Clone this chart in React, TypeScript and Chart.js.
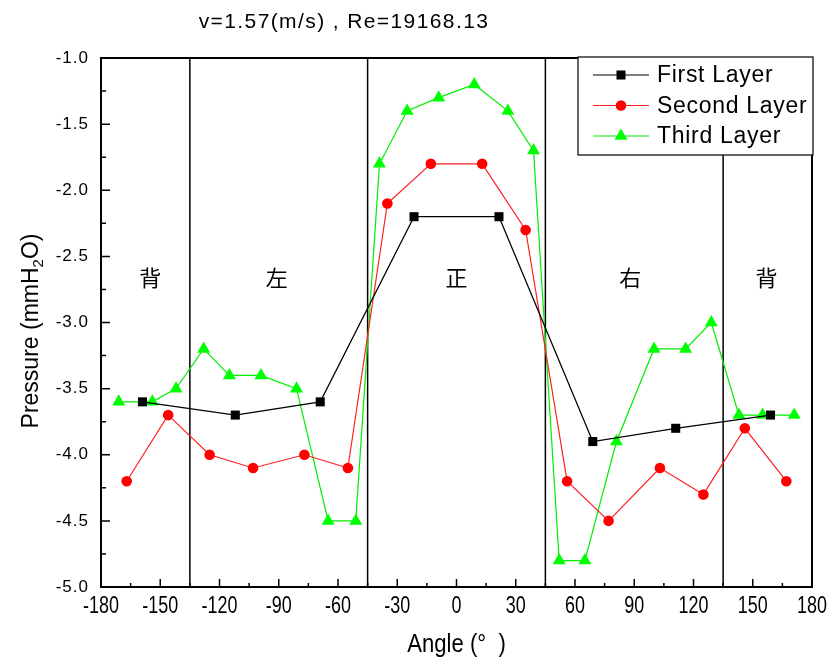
import React, { useEffect, useRef } from 'react';
import { Chart, registerables } from 'chart.js';

Chart.register(...registerables);

// ---- data ----
const titleText = 'v=1.57(m/s) , Re=19168.13';
const xTitleText = 'Angle (°  )';
const yTitleMain = 'Pressure (mmH';
const yTitleSub = '2';
const yTitleEnd = 'O)';

const seriesNames = ['First Layer', 'Second Layer', 'Third Layer'];

const firstAngles = [-159, -112, -69, -21.5, 21.5, 69, 111, 159];
const firstValues = [-3.6, -3.7, -3.6, -2.2, -2.2, -3.9, -3.8, -3.7];

const secondAngles = [-167, -146, -125, -103, -77, -55, -35, -13, 13, 35, 56, 77, 103, 125, 146, 167];
const secondValues = [-4.2, -3.7, -4.0, -4.1, -4.0, -4.1, -2.1, -1.8, -1.8, -2.3, -4.2, -4.5, -4.1, -4.3, -3.8, -4.2];

const thirdAngles = [-171, -154, -142, -128, -115, -99, -81, -65, -51, -39, -25, -9, 9, 26, 39, 52, 65, 81, 100, 116, 129, 143, 155, 171];
const thirdValues = [-3.6, -3.6, -3.5, -3.2, -3.4, -3.4, -3.5, -4.5, -4.5, -1.8, -1.4, -1.3, -1.2, -1.4, -1.7, -4.8, -4.8, -3.9, -3.2, -3.2, -3.0, -3.7, -3.7, -3.7];

const xTicks = [-180, -150, -120, -90, -60, -30, 0, 30, 60, 90, 120, 150, 180];
const yTicks = [-5.0, -4.5, -4.0, -3.5, -3.0, -2.5, -2.0, -1.5, -1.0];

const sectionBoundaries = [-135, -45, 45, 135];
const regionLabels = ['背', '左', '正', '右', '背'];
const regionAngles = [-155, -91, 0, 88, 157];
const regionLevel = -2.66;

const LATIN = '"Liberation Sans", Arial, sans-serif';
const CJK = '"Noto Sans CJK SC", "Noto Sans CJK TC", sans-serif';

function toPoints(xs: number[], ys: number[]) {
  return xs.map((x, i) => ({ x, y: ys[i] }));
}

function drawMarker(ctx: CanvasRenderingContext2D, style: string, x: number, y: number, r: number, color: string) {
  ctx.fillStyle = color;
  ctx.beginPath();
  if (style === 'rect') {
    const s = Math.SQRT1_2 * r;
    ctx.rect(x - s, y - s, 2 * s, 2 * s);
  } else if (style === 'circle') {
    ctx.arc(x, y, r, 0, Math.PI * 2);
  } else {
    const w = r * Math.sin(Math.PI / 3);
    ctx.moveTo(x, y - r);
    ctx.lineTo(x + w, y + r / 2);
    ctx.lineTo(x - w, y + r / 2);
    ctx.closePath();
  }
  ctx.fill();
}

function condensedText(ctx: CanvasRenderingContext2D, text: string, x: number, y: number, sx: number) {
  ctx.save();
  ctx.translate(x, y);
  ctx.scale(sx, 1);
  ctx.fillText(text, 0, 0);
  ctx.restore();
}

const decorPlugin = {
  id: 'decor',
  beforeDatasetsDraw(chart: any) {
    const { ctx, chartArea: a, scales } = chart;
    const x = scales.x;
    const y = scales.y;
    ctx.save();
    ctx.strokeStyle = '#000';
    ctx.lineWidth = 1.5;
    sectionBoundaries.forEach((b) => {
      const px = x.getPixelForValue(b);
      ctx.beginPath();
      ctx.moveTo(px, a.top);
      ctx.lineTo(px, a.bottom);
      ctx.stroke();
    });
    ctx.fillStyle = '#000';
    ctx.font = `22px ${CJK}`;
    ctx.textAlign = 'center';
    ctx.textBaseline = 'middle';
    regionLabels.forEach((t, i) => {
      ctx.fillText(t, x.getPixelForValue(regionAngles[i]), y.getPixelForValue(regionLevel));
    });
    ctx.restore();
  },
  afterDatasetsDraw(chart: any) {
    const { ctx, chartArea: a, scales } = chart;
    const x = scales.x;
    const y = scales.y;
    ctx.save();
    // frame
    ctx.strokeStyle = '#000';
    ctx.lineWidth = 2;
    ctx.strokeRect(a.left, a.top, a.right - a.left, a.bottom - a.top);

    // ticks (inward)
    ctx.lineWidth = 1.5;
    ctx.beginPath();
    for (let i = 0; i < xTicks.length; i++) {
      const px = x.getPixelForValue(xTicks[i]);
      ctx.moveTo(px, a.bottom);
      ctx.lineTo(px, a.bottom - 8);
      if (i < xTicks.length - 1) {
        const pm = x.getPixelForValue((xTicks[i] + xTicks[i + 1]) / 2);
        ctx.moveTo(pm, a.bottom);
        ctx.lineTo(pm, a.bottom - 4);
      }
    }
    for (let i = 0; i < yTicks.length; i++) {
      const py = y.getPixelForValue(yTicks[i]);
      ctx.moveTo(a.left, py);
      ctx.lineTo(a.left + 9, py);
      if (i < yTicks.length - 1) {
        const pm = y.getPixelForValue((yTicks[i] + yTicks[i + 1]) / 2);
        ctx.moveTo(a.left, pm);
        ctx.lineTo(a.left + 5, pm);
      }
    }
    ctx.stroke();

    // tick labels
    ctx.fillStyle = '#000';
    ctx.textBaseline = 'middle';
    ctx.textAlign = 'right';
    ctx.font = `17px ${LATIN}`;
    (ctx as any).letterSpacing = '1px';
    yTicks.forEach((v) => {
      ctx.fillText(v.toFixed(1), a.left - 12, y.getPixelForValue(v));
    });
    (ctx as any).letterSpacing = '0px';
    ctx.textAlign = 'center';
    ctx.font = `23px ${LATIN}`;
    xTicks.forEach((v) => {
      condensedText(ctx, String(v), x.getPixelForValue(v), a.bottom + 20, 0.78);
    });

    // titles
    ctx.font = `21px ${LATIN}`;
    (ctx as any).letterSpacing = '1.4px';
    ctx.fillText(titleText, 344, 22);
    (ctx as any).letterSpacing = '0px';
    ctx.font = `26px ${LATIN}`;
    condensedText(ctx, xTitleText, (a.left + a.right) / 2, 645, 0.85);

    // y title with subscript
    ctx.save();
    ctx.translate(30, 331);
    ctx.rotate(-Math.PI / 2);
    ctx.font = `23px ${LATIN}`;
    const w1 = ctx.measureText(yTitleMain).width;
    ctx.font = `15px ${LATIN}`;
    const w2 = ctx.measureText(yTitleSub).width;
    ctx.font = `23px ${LATIN}`;
    const w3 = ctx.measureText(yTitleEnd).width;
    const total = w1 + w2 + w3;
    let cx = -total / 2;
    ctx.textAlign = 'left';
    ctx.textBaseline = 'alphabetic';
    ctx.fillText(yTitleMain, cx, 8);
    cx += w1;
    ctx.font = `15px ${LATIN}`;
    ctx.fillText(yTitleSub, cx, 13);
    cx += w2;
    ctx.font = `23px ${LATIN}`;
    ctx.fillText(yTitleEnd, cx, 8);
    ctx.restore();

    // legend
    const lx = a.right - 234;
    const ly = a.top - 1;
    ctx.fillStyle = '#fff';
    ctx.fillRect(lx, ly, 235, 98);
    ctx.strokeStyle = '#000';
    ctx.lineWidth = 1.2;
    ctx.strokeRect(lx, ly, 235, 98);
    chart.data.datasets.forEach((ds: any, i: number) => {
      const ry = ly + 18 + i * 30.5;
      ctx.strokeStyle = ds.borderColor;
      ctx.lineWidth = 1.2;
      ctx.beginPath();
      ctx.moveTo(lx + 15, ry);
      ctx.lineTo(lx + 71, ry);
      ctx.stroke();
      drawMarker(ctx, ds.pointStyle, lx + 43, ry, ds.pointRadius, ds.pointBackgroundColor);
      ctx.fillStyle = '#000';
      ctx.font = `23px ${LATIN}`;
      ctx.textAlign = 'left';
      ctx.textBaseline = 'middle';
      (ctx as any).letterSpacing = '0.7px';
      ctx.fillText(seriesNames[i], lx + 79, ry + 1);
      (ctx as any).letterSpacing = '0px';
    });
    ctx.restore();
  },
};

export default function App() {
  const ref = useRef<HTMLCanvasElement | null>(null);
  useEffect(() => {
    if (!ref.current) return;
    const chart = new Chart(ref.current, {
      type: 'scatter',
      data: {
        datasets: [
          {
            label: seriesNames[0],
            data: toPoints(firstAngles, firstValues),
            showLine: true,
            borderColor: '#000000',
            backgroundColor: '#000000',
            pointBackgroundColor: '#000000',
            pointBorderColor: '#000000',
            pointStyle: 'rect',
            pointRadius: 6.4,
            pointBorderWidth: 0,
            borderWidth: 1.2,
          },
          {
            label: seriesNames[1],
            data: toPoints(secondAngles, secondValues),
            showLine: true,
            borderColor: '#ff2020',
            backgroundColor: '#ff0000',
            pointBackgroundColor: '#ff0000',
            pointBorderColor: '#ff0000',
            pointStyle: 'circle',
            pointRadius: 5.3,
            pointBorderWidth: 0,
            borderWidth: 1.2,
          },
          {
            label: seriesNames[2],
            data: toPoints(thirdAngles, thirdValues),
            showLine: true,
            borderColor: '#00ee00',
            backgroundColor: '#00ff00',
            pointBackgroundColor: '#00ff00',
            pointBorderColor: '#00ff00',
            pointStyle: 'triangle',
            pointRadius: 7.5,
            pointBorderWidth: 0,
            borderWidth: 1.2,
          },
        ],
      },
      options: {
        responsive: false,
        animation: false,
        events: [],
        layout: { padding: { top: 58, right: 16, left: 0, bottom: 0 } },
        plugins: {
          legend: { display: false },
          title: { display: false },
          tooltip: { enabled: false },
        },
        scales: {
          x: {
            type: 'linear',
            min: -180,
            max: 180,
            grid: { display: false },
            border: { display: false },
            ticks: { display: false },
            afterFit: (s: any) => {
              s.height = 77;
            },
          },
          y: {
            type: 'linear',
            min: -5,
            max: -1,
            grid: { display: false },
            border: { display: false },
            ticks: { display: false },
            afterFit: (s: any) => {
              s.width = 101;
            },
          },
        },
      },
      plugins: [decorPlugin],
    } as any);
    return () => chart.destroy();
  }, []);
  return (
    <div style={{ position: 'fixed', left: 0, top: 0, width: 828, height: 664, background: '#fff' }}>
      <canvas ref={ref} width={828} height={664} style={{ width: 828, height: 664, display: 'block' }} />
    </div>
  );
}
